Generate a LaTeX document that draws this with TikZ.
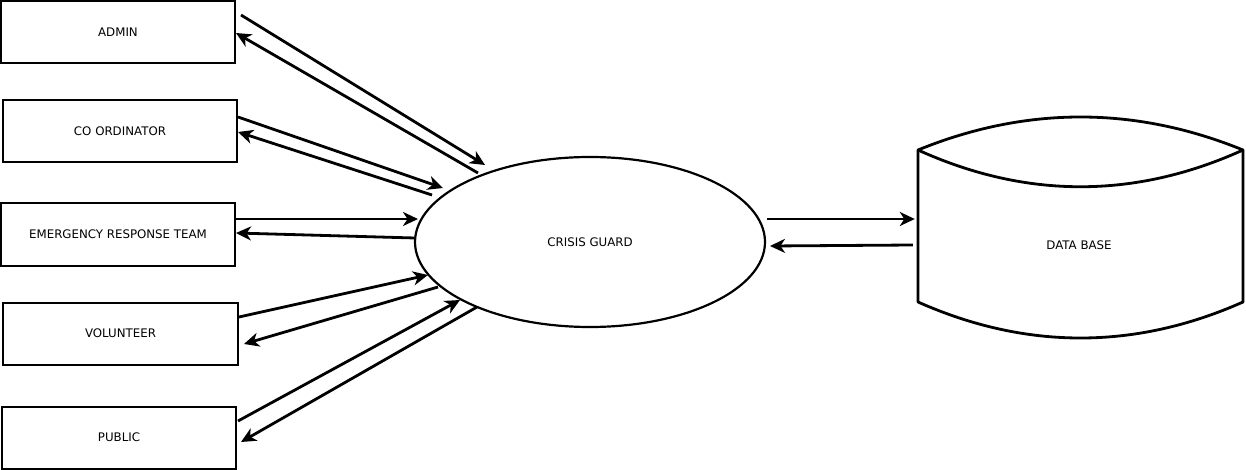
\documentclass[tikz,border=0pt]{standalone}
\usepackage{fontspec}
\setmainfont{DejaVu Sans}
\usetikzlibrary{arrows.meta,calc,shapes.geometric}
\begin{document}
\begin{tikzpicture}[x=1pt,y=-1pt,
  ent/.style={draw,line width=2pt,minimum width=234pt,minimum height=62pt,inner sep=0pt,font=\fontsize{11.8}{13}\selectfont},
  proc/.style={draw,ellipse,line width=2.2pt,minimum width=350pt,minimum height=170pt,inner sep=0pt,font=\fontsize{11.8}{13}\selectfont},
  lbl/.style={inner sep=0pt,font=\fontsize{11.8}{13}\selectfont},
  arr/.style={line width=2.8pt,-{Stealth[length=15pt,width=14pt,inset=4.5pt]}},
  dbline/.style={line width=2.8pt,line join=round}]
\useasboundingbox (0,0) rectangle (1246,470);
\node[ent] (admin) at (118,32) {ADMIN};
\node[ent] (coord) at (120,131.5) {CO ORDINATOR};
\node[ent] (ert) at (118,234.5) {EMERGENCY RESPONSE TEAM};
\node[ent,minimum width=235pt] (vol) at (120.5,333.5) {VOLUNTEER};
\node[ent] (pub) at (119,437.5) {PUBLIC};
\node[proc] (cg) at (590,242) {CRISIS GUARD};
% database shape
\draw[dbline] (918,150) .. controls (1026,106) and (1135,106) .. (1243,150)
  -- (1243,302) .. controls (1135,350) and (1026,350) .. (918,302) -- cycle;
\draw[dbline] (918,150) .. controls (1026,199) and (1135,199) .. (1243,150);
\node[lbl,minimum width=325pt,minimum height=152pt] (db) at (1080.5,226) {};
\node[lbl] (dbt) at (1079,245) {DATA BASE};
% connectors
\draw[arr] ($(admin.east)+(5,-17)$) -- ($(cg.center)+(-105,-77)$);
\draw[arr] ($(cg.center)+(-112,-69)$) -- ($(admin.east)+(0,1)$);
\draw[arr] ($(coord.east)+(0,-14.5)$) -- ($(cg.center)+(-147,-54)$);
\draw[arr] ($(cg.center)+(-158,-47)$) -- ($(coord.east)+(0,0.5)$);
\draw[arr] ($(ert.east)+(0,-15.5)$) -- ($(cg.center)+(-172,-23)$);
\draw[arr] ($(cg.center)+(-175,-4)$) -- ($(ert.east)+(0,-1.5)$);
\draw[arr] ($(vol.east)+(0,-16.5)$) -- ($(cg.center)+(-162,33)$);
\draw[arr] ($(cg.center)+(-152,45)$) -- ($(vol.east)+(5,10.5)$);
\draw[arr] ($(pub.east)+(1,-16.5)$) -- ($(cg.center)+(-130,58)$);
\draw[arr] ($(cg.center)+(-113,65)$) -- ($(pub.east)+(4,4.5)$);
\draw[arr] ($(cg.center)+(177,-23)$) -- ($(db.west)+(-3,-7)$);
\draw[arr] ($(db.west)+(-5,19)$) -- ($(cg.center)+(180,4)$);
\end{tikzpicture}
\end{document}
